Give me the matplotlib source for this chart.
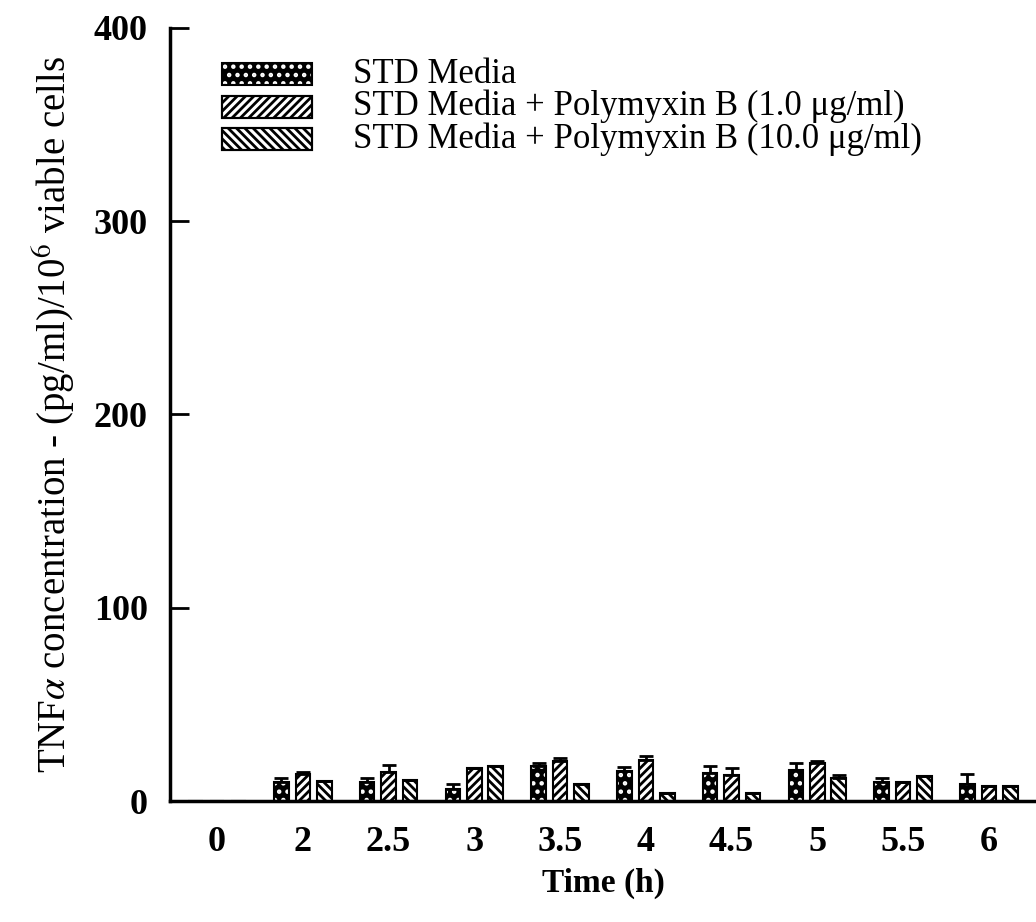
import numpy as np
import matplotlib
matplotlib.use('Agg')
import matplotlib.pyplot as plt
from matplotlib.patches import Rectangle

plt.rcParams['font.family'] = ['Liberation Serif', 'DejaVu Serif']
plt.rcParams['mathtext.fontset'] = 'stix'
plt.rcParams['hatch.linewidth'] = 2.0

# data
times = ['0', '2', '2.5', '3', '3.5', '4', '4.5', '5', '5.5', '6']
std_media = [0, 10, 10, 6.5, 18, 15.5, 14.5, 16, 10, 9]
std_media_err = [0, 2, 2, 2.5, 2, 2, 3.5, 4, 2, 5]
pmb_1 = [0, 14, 15, 17, 21, 21.5, 13.5, 20, 10, 8]
pmb_1_err = [0, 1, 3.5, 0, 1.5, 2, 3.5, 1, 0, 0]
pmb_10 = [0, 10.5, 11, 18, 9, 4.5, 4.5, 12, 13, 8]
pmb_10_err = [0, 0, 0, 0, 0, 0, 0, 1.5, 0, 0]

labels = ['STD Media',
          'STD Media + Polymyxin B (1.0 \u03bcg/ml)',
          'STD Media + Polymyxin B (10.0 \u03bcg/ml)']

x = np.arange(len(times))
w = 0.17
step = 0.25

fig = plt.figure(figsize=(10.36, 9.22), dpi=100)
ax = fig.add_axes([0.164, 0.131, 0.836, 0.839])

ekw = dict(ecolor='black', elinewidth=2, capthick=2)

def upper(err):
    return [np.zeros(len(err)), err]

# STD Media: black with white dots, then an outline on top
ax.bar(x - step, std_media, w, color='black', edgecolor='white', hatch='..', linewidth=0)
ax.bar(x - step, std_media, w, fill=False, edgecolor='black', linewidth=1.5,
       yerr=upper(std_media_err), capsize=5, error_kw=ekw)
ax.bar(x, pmb_1, w, color='white', edgecolor='black', hatch='////', linewidth=1.5,
       yerr=upper(pmb_1_err), capsize=5, error_kw=ekw)
ax.bar(x + step, pmb_10, w, color='white', edgecolor='black', hatch='\\\\\\\\', linewidth=1.5,
       yerr=upper(pmb_10_err), capsize=5, error_kw=ekw)

ax.set_xlim(-0.55, 9.55)
ax.set_ylim(0, 400)
ax.set_yticks([0, 100, 200, 300, 400])
ax.set_xticks(x)
ax.set_xticklabels(times)
ax.tick_params(axis='y', direction='in', length=14, width=2, labelsize=26, pad=16)
ax.tick_params(axis='x', length=0, labelsize=26, pad=18)
for lab in ax.get_xticklabels() + ax.get_yticklabels():
    lab.set_fontweight('bold')

ax.spines['top'].set_visible(False)
ax.spines['right'].set_visible(False)
ax.spines['left'].set_linewidth(2.5)
ax.spines['bottom'].set_linewidth(2.5)

ax.set_ylabel(r'TNF$\alpha$ concentration - (pg/ml)/10$^6$ viable cells', fontsize=28, labelpad=12)
ax.set_xlabel('Time (h)', fontsize=24, fontweight='bold', labelpad=6)

# legend drawn by hand so rows can sit as tight as in the original
rows = [0.940, 0.898, 0.856]
styles = [dict(facecolor='black', edgecolor='white', hatch='..', linewidth=0),
          dict(facecolor='white', edgecolor='black', hatch='////', linewidth=1.5),
          dict(facecolor='white', edgecolor='black', hatch='\\\\\\\\', linewidth=1.5)]
for yc, st, lab in zip(rows, styles, labels):
    ax.add_patch(Rectangle((0.060, yc - 0.0143), 0.104, 0.0286, transform=ax.transAxes,
                           clip_on=False, **st))
    ax.add_patch(Rectangle((0.060, yc - 0.0143), 0.104, 0.0286, transform=ax.transAxes,
                           clip_on=False, fill=False, edgecolor='black', linewidth=1.5))
    ax.text(0.211, yc, lab, transform=ax.transAxes, fontsize=25, va='center', ha='left')

fig.savefig('out.png', dpi=100)
